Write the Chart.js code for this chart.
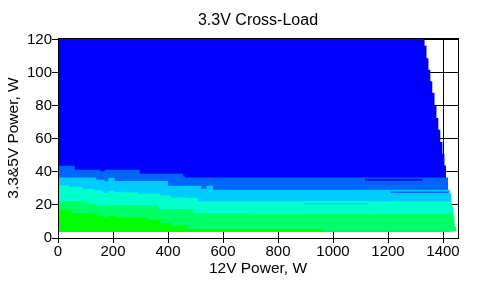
<!DOCTYPE html>
<html>
<head>
<meta charset="utf-8">
<script src="https://cdn.jsdelivr.net/npm/chart.js@4"></script>
<style>
  html, body { margin: 0; padding: 0; background: #fff; }
</style>
</head>
<body>
<canvas id="crossload" width="487" height="286"></canvas>
<script>
const xTicks = [0, 200, 400, 600, 800, 1000, 1200, 1400];
const yTicks = [0, 20, 40, 60, 80, 100, 120];
const xMax = 1454.5;
const yMax = 121.2;
const floorW = 4; // coloured area starts at 4 W of 3.3&5V load

// upper edge of every colour band: [12V W, 3.3&5V W], value holds until next point
const blueTop = [[0, 121.2], [1333, 116.5], [1340, 109], [1347, 102], [1354, 95], [1361, 88], [1369, 80],
  [1376, 72.7], [1383, 65.6], [1390, 58.2], [1398, 51.1], [1405, 44], [1411, 44]];
const medBlueTop = [[0, 43.8], [61, 41.4], [155, 40.4], [170, 41.4], [297, 39], [455, 37.8], [461, 36.7], [1419, 36.7]];
const cyanTop = [[0, 36.7], [139, 35.3], [170, 34.3], [182, 36.3], [206, 34.6], [400, 31.7], [521, 29.7],
  [540, 31.7], [564, 29.3], [1426, 27], [1429, 27]];
const aquaTop = [[0, 31.9], [42, 30.7], [91, 29.7], [133, 28.9], [164, 27.3], [182, 28.7], [206, 27.7], [291, 26.8],
  [373, 25.8], [410, 24.6], [473, 24.2], [509, 22.2], [1432, 19.6], [1437, 19.6]];
const springTop = [[0, 22.2], [109, 20.8], [139, 19.8], [366, 17.6], [491, 15.1], [700, 14.7], [1437, 13], [1442, 7], [1449, 7]];
const greenTop = [[0, 17.1], [48, 15.1], [139, 13.5], [164, 12.5], [182, 13.5], [206, 12.5], [327, 11.1],
  [373, 9.1], [412, 7.6], [473, 5.5], [964, 5.5]];

const bands = [blueTop, medBlueTop, cyanTop, aquaTop, springTop, greenTop];
const bandColors = ['#0000ff', '#0066ff', '#00ccff', '#00ffcc', '#00ff66', '#00ff00'];

// thin stray rows inside the bands
const streakFrom = [1116, 1210, 897];
const streakTo = [1326, 1420, 1127];
const streakLo = [34.7, 27.2, 20.4];
const streakHi = [35.9, 28.2, 21.2];
const streakColors = ['#0000ff', '#0066ff', '#00ccff'];

const toPoints = arr => arr.map(p => ({x: p[0], y: p[1]}));

const datasets = [];
// streaks first so they sit on top
for (let i = 0; i < streakFrom.length; i++) {
    datasets.push({
        data: [{x: streakFrom[i], y: streakHi[i]}, {x: streakTo[i], y: streakHi[i]}],
        fill: {value: streakLo[i]},
        backgroundColor: streakColors[i],
        borderColor: 'rgba(0,0,0,0)',
        borderWidth: 0,
        pointRadius: 0
    });
}
// green drawn last (on top), blue first
for (let i = bands.length - 1; i >= 0; i--) {
    datasets.push({
        data: toPoints(bands[i]),
        stepped: true,
        fill: {value: floorW},
        backgroundColor: bandColors[i],
        borderColor: 'rgba(0,0,0,0)',
        borderWidth: 0,
        pointRadius: 0
    });
}

const framePlugin = {
    id: 'frame',
    afterDatasetsDraw(chart) {
        const {ctx, chartArea} = chart;
        ctx.save();
        ctx.strokeStyle = '#000';
        ctx.lineWidth = 1;
        ctx.strokeRect(Math.round(chartArea.left) + 0.5, Math.round(chartArea.top) + 0.5,
            Math.round(chartArea.right - chartArea.left), Math.round(chartArea.bottom - chartArea.top));
        ctx.restore();
    }
};

Chart.defaults.font.family = 'Arial, "Liberation Sans", sans-serif';
Chart.defaults.color = '#000';

new Chart(document.getElementById('crossload').getContext('2d'), {
    type: 'line',
    data: {datasets: datasets},
    options: {
        responsive: false,
        animation: false,
        events: [],
        layout: {padding: {left: 0, right: 29, top: 0, bottom: 0}},
        plugins: {
            legend: {display: false},
            tooltip: {enabled: false},
            title: {
                display: true,
                text: '3.3V Cross-Load',
                fullSize: false,
                color: '#000',
                font: {size: 16, weight: 'normal', lineHeight: 1.25},
                padding: {top: 10.5, bottom: 7.5}
            }
        },
        scales: {
            x: {
                type: 'linear',
                min: 0,
                max: xMax,
                afterFit(scale) { scale.height = 48; },
                afterBuildTicks(scale) { scale.ticks = xTicks.map(v => ({value: v})); },
                ticks: {color: '#000', font: {size: 15}, padding: 0, maxRotation: 0, autoSkip: false, callback: v => String(v)},
                grid: {color: '#000', tickColor: '#000', tickLength: 5},
                border: {color: '#000'},
                title: {display: true, text: '12V Power, W', color: '#000', font: {size: 15.5}, padding: {top: 0, bottom: 7.7}}
            },
            y: {
                type: 'linear',
                min: 0,
                max: yMax,
                afterFit(scale) { scale.width = 58; },
                afterBuildTicks(scale) { scale.ticks = yTicks.map(v => ({value: v})); },
                ticks: {color: '#000', font: {size: 15}, padding: 0, autoSkip: false, callback: v => String(v)},
                grid: {color: '#000', tickColor: '#000', tickLength: 6},
                border: {color: '#000'},
                title: {display: true, text: '3.3&5V Power, W', color: '#000', font: {size: 15.5}, padding: {top: 4.7, bottom: 0}}
            }
        }
    },
    plugins: [framePlugin]
});
</script>
</body>
</html>
